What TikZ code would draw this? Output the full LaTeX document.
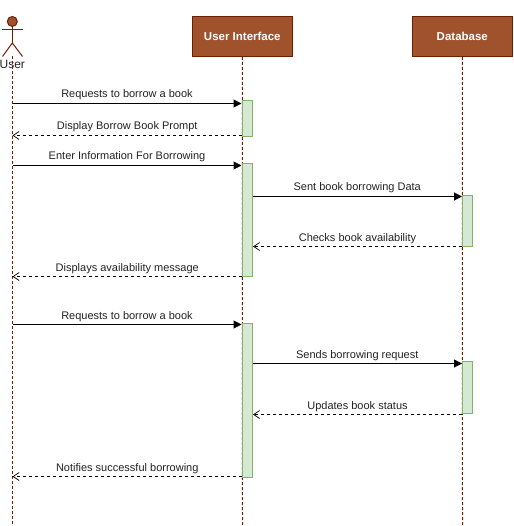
\documentclass[tikz,border=0pt]{standalone}
\usepackage{fontspec}
\setmainfont{Liberation Sans}
\usetikzlibrary{arrows.meta}
\definecolor{hdrfill}{HTML}{A0522D}
\definecolor{hdrline}{HTML}{6D1F00}
\definecolor{actfill}{HTML}{D5E8D4}
\definecolor{actline}{HTML}{82B366}
\definecolor{txt}{HTML}{222222}
\tikzset{
  x=1pt,y=-1pt,
  header/.style={draw=hdrline,fill=hdrfill,line width=1pt,minimum width=100pt,minimum height=40pt,inner sep=0pt,text=white,font=\fontsize{11.5}{13}\selectfont\bfseries},
  lifeline/.style={draw=hdrline,line width=1pt,dash pattern=on 3pt off 2pt},
  actbox/.style={draw=actline,fill=actfill,line width=1pt},
  syncmsg/.style={draw=black,line width=1pt,-{Triangle[length=8pt,width=8pt]}},
  retmsg/.style={draw=black,line width=1pt,dash pattern=on 3pt off 3pt,-{Straight Barb[length=6pt,width=8pt,line width=0.7pt]}},
  msglabel/.style={inner sep=0pt,text=txt,font=\fontsize{11}{13}\selectfont},
  actorline/.style={draw=hdrline,line width=1pt},
}
\newcommand{\msg}[6]{%
  \coordinate (#1s) at (#2,#4);
  \coordinate (#1e) at (#3,#4);
  \draw[#5] (#1s) -- (#1e);
  \node[msglabel,anchor=base] (#1l) at ({(#2+#3)/2},{#4-5.5}) {#6};
}
\begin{document}
\begin{tikzpicture}
\useasboundingbox (0,0) rectangle (513,526);
% headers
\node[header] (ui) at (242.3,36.5) {User Interface};
\node[header] (db) at (462.3,36.5) {Database};
% actor
\node[circle,draw=hdrline,fill=hdrfill,line width=1pt,minimum size=10pt,inner sep=0pt] (head) at (12.3,21.5) {};
\coordinate (hip) at (12.3,43);
\coordinate (armL) at (2,29.5);
\coordinate (armR) at (23,29.5);
\coordinate (legL) at (2.5,56.5);
\coordinate (legR) at (22.5,56.5);
\draw[actorline] (head.south) -- (hip);
\draw[actorline] (armL) -- (armR);
\draw[actorline] (legL) -- (hip) -- (legR);
\node[inner sep=0pt,text=txt,font=\fontsize{12}{14}\selectfont] (user) at (12.3,64.5) {User};
% lifelines
\coordinate (uTop) at (12.5,56);
\coordinate (uBot) at (12.5,526);
\coordinate (uiBot) at (242.5,526);
\coordinate (dbBot) at (462.5,526);
\draw[lifeline] (uTop) -- (uBot);
\draw[lifeline] (ui.south) -- (uiBot);
\draw[lifeline] (db.south) -- (dbBot);
% activations
\node[actbox,inner sep=0pt,minimum width=10pt,minimum height=36.5pt] (a1) at (247.3,118.5) {};
\node[actbox,inner sep=0pt,minimum width=10pt,minimum height=113pt] (a2) at (247.3,220) {};
\node[actbox,inner sep=0pt,minimum width=10pt,minimum height=154pt] (a3) at (247.3,400.5) {};
\node[actbox,inner sep=0pt,minimum width=10pt,minimum height=51pt] (d1) at (467.3,221) {};
\node[actbox,inner sep=0pt,minimum width=10pt,minimum height=52pt] (d2) at (467.3,387.5) {};
% messages
\msg{m1}{12.5}{241.5}{103.5}{syncmsg}{Requests to borrow a book}
\msg{m2}{242}{12.5}{135.5}{retmsg}{Display Borrow Book Prompt}
\msg{m3}{12.5}{241.5}{165.5}{syncmsg}{Enter Information For Borrowing}
\msg{m4}{252.5}{462}{196.5}{syncmsg}{Sent book borrowing Data}
\msg{m5}{462}{253}{246.5}{retmsg}{Checks book availability}
\msg{m6}{242}{12.5}{276.5}{retmsg}{Displays availability message}
\msg{m7}{12.5}{241.5}{324.5}{syncmsg}{Requests to borrow a book}
\msg{m8}{252.5}{462}{363.5}{syncmsg}{Sends borrowing request}
\msg{m9}{462}{253}{414.5}{retmsg}{Updates book status}
\msg{m10}{242}{12.5}{476.5}{retmsg}{Notifies successful borrowing}
\end{tikzpicture}
\end{document}
